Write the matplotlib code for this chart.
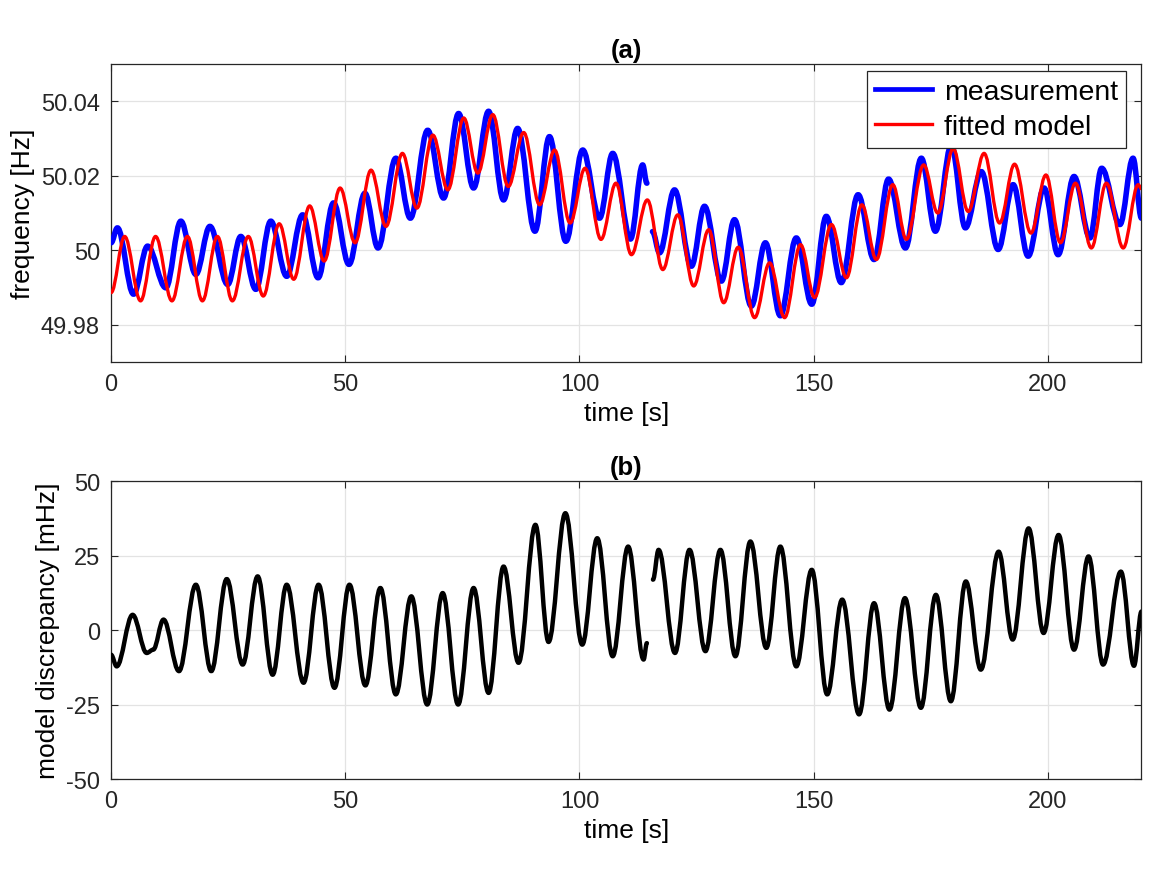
import numpy as np
import matplotlib
matplotlib.use("Agg")
import matplotlib.pyplot as plt
from matplotlib.path import Path
from matplotlib.patches import PathPatch
from matplotlib.lines import Line2D

plt.rcParams['font.family'] = ['Liberation Sans', 'DejaVu Sans']
plt.rcParams['axes.unicode_minus'] = False

# extrema (time [s], value); nan marks the data gap
meas_t = [0.0, 1.35, 4.8, 7.8, 11.7, 14.9, 18.1, 21.1, 24.9, 27.7, 30.9, 34.1, 37.5, 40.9,
          44.2, 47.5, 50.8, 54.2, 57.0, 60.8, 63.9, 67.6, 71.0, 74.2, 77.4, 80.6, 83.8,
          86.8, 90.5, 93.6, 97.1, 100.7, 104.3, 107.1, 110.9, 113.5, 114.4, np.nan,
          115.6, 117.1, 120.3, 123.9, 126.7, 130.3, 133.1, 136.7, 139.7, 142.9, 146.3,
          149.6, 152.7, 155.9, 159.5, 162.9, 166.0, 169.6, 173.0, 176.0, 179.4, 182.4,
          185.8, 189.4, 192.6, 195.8, 199.2, 202.2, 205.6, 209.0, 211.5, 215.4, 218.2, 220.0]
meas_f = [50.0020, 50.0060, 49.9882, 50.0011, 49.9899, 50.0078, 49.9935, 50.0064, 49.9908,
          50.0037, 49.9895, 50.0078, 49.9930, 50.0095, 49.9926, 50.0127, 49.9962, 50.0153,
          50.0006, 50.0247, 50.0086, 50.0322, 50.0140, 50.0367, 50.0167, 50.0373, 50.0135,
          50.0327, 50.0051, 50.0305, 50.0024, 50.0269, 50.0086, 50.0260, 50.0030, 50.0229,
          50.0180, np.nan,
          50.0050, 49.9993, 50.0162, 49.9957, 50.0118, 49.9917, 50.0082, 49.9850, 50.0020,
          49.9824, 50.0033, 49.9855, 50.0091, 49.9913, 50.0149, 49.9975, 50.0191, 50.0006,
          50.0247, 50.0051, 50.0282, 50.0060, 50.0211, 50.0002, 50.0176, 49.9984, 50.0167,
          49.9988, 50.0198, 50.0033, 50.0220, 50.0069, 50.0247, 50.0086]

model_t = [0.0, 2.9, 6.3, 9.5, 13.0, 16.3, 19.5, 22.7, 25.9, 29.3, 32.5, 35.9, 39.0, 42.4,
           45.5, 48.9, 52.1, 55.5, 58.7, 62.2, 65.3, 68.7, 71.9, 75.3, 78.3, 81.5, 84.8,
           88.1, 91.5, 94.7, 98.0, 101.2, 104.6, 107.8, 111.1, 114.5, 117.8, 121.0, 124.4,
           127.6, 130.8, 133.9, 137.4, 140.6, 143.8, 147.2, 150.2, 153.8, 157.0, 160.3,
           163.4, 166.9, 169.8, 173.5, 176.5, 179.8, 183.0, 186.4, 189.7, 192.9, 196.4,
           199.6, 202.7, 205.9, 209.3, 212.5, 216.1, 219.3, 220.0]
model_f = [49.9886, 50.0037, 49.9864, 50.0037, 49.9864, 50.0037, 49.9864, 50.0037, 49.9864,
           50.0037, 49.9877, 50.0071, 49.9922, 50.0119, 49.9971, 50.0167, 50.0020, 50.0215,
           50.0064, 50.0260, 50.0113, 50.0309, 50.0162, 50.0355, 50.0207, 50.0364, 50.0171,
           50.0316, 50.0122, 50.0269, 50.0073, 50.0220, 50.0029, 50.0180, 49.9988, 50.0135,
           49.9948, 50.0095, 49.9904, 50.0055, 49.9859, 50.0008, 49.9819, 49.9966, 49.9819,
           50.0015, 49.9873, 50.0069, 49.9926, 50.0122, 49.9975, 50.0176, 50.0029, 50.0229,
           50.0100, 50.0273, 50.0104, 50.0260, 50.0073, 50.0231, 50.0046, 50.0202, 50.0020,
           50.0180, 50.0006, 50.0180, 50.0006, 50.0176, 50.0165]

disc_t = [0.0, 1.2, 4.6, 7.6, 9.0, 11.2, 14.5, 18.1, 21.4, 24.7, 28.1, 31.3, 34.5, 37.5,
          41.1, 44.3, 47.7, 50.9, 54.3, 57.5, 60.8, 64.1, 67.5, 70.8, 74.1, 77.4, 80.6,
          83.8, 87.0, 90.6, 93.4, 97.0, 100.6, 103.8, 107.1, 110.4, 113.7, 114.4, np.nan,
          115.7, 116.9, 120.4, 123.5, 126.9, 130.1, 133.3, 136.5, 139.9, 142.9, 146.3,
          149.6, 152.9, 156.1, 159.7, 162.9, 166.2, 169.5, 172.9, 176.1, 179.3, 182.5,
          185.7, 189.5, 192.5, 195.9, 199.1, 202.3, 205.6, 208.7, 211.8, 215.6, 218.4, 220.0]
disc_mhz = [-8.3, -12.2, 5.1, -7.7, -6.6, 3.5, -13.8, 15.2, -13.8, 17.1, -11.6, 18.0, -15.0,
            15.2, -17.7, 15.2, -19.4, 15.2, -18.6, 14.1, -21.6, 11.3, -25.0, 12.4, -25.0,
            14.1, -21.1, 21.3, -11.0, 35.3, -4.0, 39.2, -4.9, 30.8, -8.8, 28.0, -9.9, -4.4,
            np.nan,
            16.9, 26.9, -7.7, 26.9, -7.1, 26.9, -8.8, 29.7, -6.0, 28.0, -12.2, 20.2, -21.6,
            10.2, -28.3, 9.0, -26.7, 10.7, -26.1, 11.8, -23.9, 16.3, -13.3, 26.3, -3.2, 34.1,
            -1.0, 31.9, -6.6, 24.7, -11.6, 19.6, -12.0, 6.2]

xticks = [0, 50, 100, 150, 200]
freq_ticks = [49.98, 50.0, 50.02, 50.04]
freq_labels = ['49.98', '50', '50.02', '50.04']
disc_ticks = [-50, -25, 0, 25, 50]

GREY = '#262626'


def smooth_curve(ax, t, v, **kw):
    # cubic segments with flat tangents at the read extrema
    verts, codes, prev = [], [], None
    for ti, vi in zip(t, v):
        if np.isnan(vi):
            prev = None
            continue
        if prev is None:
            verts.append((ti, vi))
            codes.append(Path.MOVETO)
        else:
            t0, v0 = prev
            dt = ti - t0
            verts += [(t0 + 0.364 * dt, v0), (ti - 0.364 * dt, vi), (ti, vi)]
            codes += [Path.CURVE4] * 3
        prev = (ti, vi)
    ax.add_patch(PathPatch(Path(verts, codes), fill=False, capstyle='round',
                           joinstyle='round', **kw))


def style(ax):
    ax.grid(True, color='#e3e3e3', linewidth=0.9)
    ax.set_axisbelow(True)
    ax.tick_params(direction='in', length=5, width=0.8, colors=GREY, labelsize=17,
                   top=True, right=True, pad=8)
    for s in ax.spines.values():
        s.set_color(GREY)
        s.set_linewidth(0.9)


fig = plt.figure(figsize=(11.63, 8.78), dpi=100)

ax1 = fig.add_axes([0.0955, 0.5866, 0.886, 0.3394])
smooth_curve(ax1, meas_t, meas_f, edgecolor='#0000ff', linewidth=4.0, zorder=3)
smooth_curve(ax1, model_t, model_f, edgecolor='#ff0000', linewidth=2.4, zorder=4)
ax1.set_xlim(0, 220)
ax1.set_ylim(49.97, 50.05)
ax1.set_xticks(xticks)
ax1.set_yticks(freq_ticks)
ax1.set_yticklabels(freq_labels)
style(ax1)
ax1.set_xlabel('time [s]', fontsize=19, labelpad=4)
ax1.set_ylabel('frequency [Hz]', fontsize=19, labelpad=4)
ax1.set_title('(a)', fontsize=18.5, fontweight='bold', pad=5)
handles = [Line2D([], [], color='#0000ff', linewidth=3.4),
           Line2D([], [], color='#ff0000', linewidth=2.4)]
leg = ax1.legend(handles, ['measurement', 'fitted model'], loc='upper right',
                 bbox_to_anchor=(0.9854, 0.9775), borderaxespad=0, fontsize=20.5,
                 fancybox=False, framealpha=1, edgecolor=GREY, handlelength=2.0,
                 handletextpad=0.4, labelspacing=0.3, borderpad=0.3)
leg.get_frame().set_linewidth(0.9)

ax2 = fig.add_axes([0.0955, 0.1116, 0.886, 0.3394])
smooth_curve(ax2, disc_t, disc_mhz, edgecolor='black', linewidth=3.2, zorder=3)
ax2.set_xlim(0, 220)
ax2.set_ylim(-50, 50)
ax2.set_xticks(xticks)
ax2.set_yticks(disc_ticks)
style(ax2)
ax2.set_xlabel('time [s]', fontsize=19, labelpad=4)
ax2.set_ylabel('model discrepancy [mHz]', fontsize=19, labelpad=4)
ax2.set_title('(b)', fontsize=18.5, fontweight='bold', pad=5)

fig.savefig('out.png', dpi=100)
